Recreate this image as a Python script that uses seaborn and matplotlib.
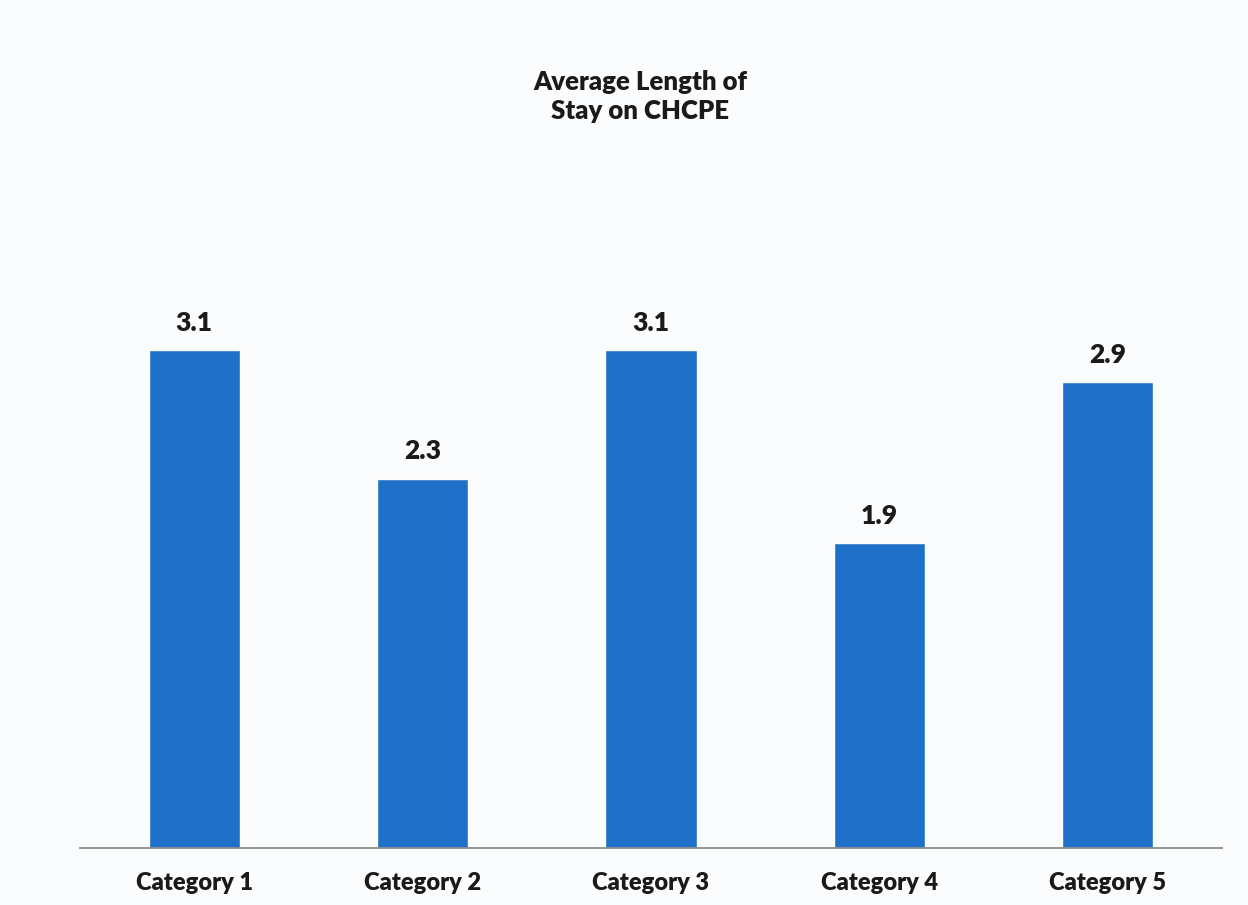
import seaborn as sns
import matplotlib.pyplot as plt

# data
categories = ["Category 1", "Category 2", "Category 3", "Category 4", "Category 5"]
values = [3.1, 2.3, 3.1, 1.9, 2.9]
value_labels = ["3.1", "2.3", "3.1", "1.9", "2.9"]

bar_color = "#1f70c8"

sns.set_style("white")
plt.rcParams['font.family'] = ['Lato', 'DejaVu Sans']

fig = plt.figure(figsize=(12.48, 9.05), dpi=100, facecolor="#fbfcfd")
ax = fig.add_axes([0.0641, 0.063, 0.915, 0.7096])
ax.set_facecolor("#fbfcfd")

sns.barplot(x=categories, y=values, color=bar_color, width=0.4,
            saturation=1, ax=ax)

ax.set_ylim(0, 4)
ax.set_xlim(-0.5, 4.5)
ax.bar_label(ax.containers[0], labels=value_labels, padding=11,
             fontsize=19, fontweight='heavy', color="#1a1a1a")

# axes style: only bottom line
for side in ["top", "left", "right"]:
    ax.spines[side].set_visible(False)
ax.spines["bottom"].set_color("#8a8a8a")
ax.spines["bottom"].set_linewidth(1.3)
ax.set_yticks([])
ax.tick_params(axis='x', length=0, pad=17, labelsize=17, labelcolor="#1a1a1a")
for lbl in ax.get_xticklabels():
    lbl.set_fontweight('heavy')
ax.set_xlabel("")
ax.set_ylabel("")

fig.text(0.513, 0.893, "Average Length of\nStay on CHCPE", ha='center', va='center',
         fontsize=18.5, fontweight='heavy', color="#1a1a1a", linespacing=1.25)

plt.savefig("out.png", dpi=100, facecolor=fig.get_facecolor())
